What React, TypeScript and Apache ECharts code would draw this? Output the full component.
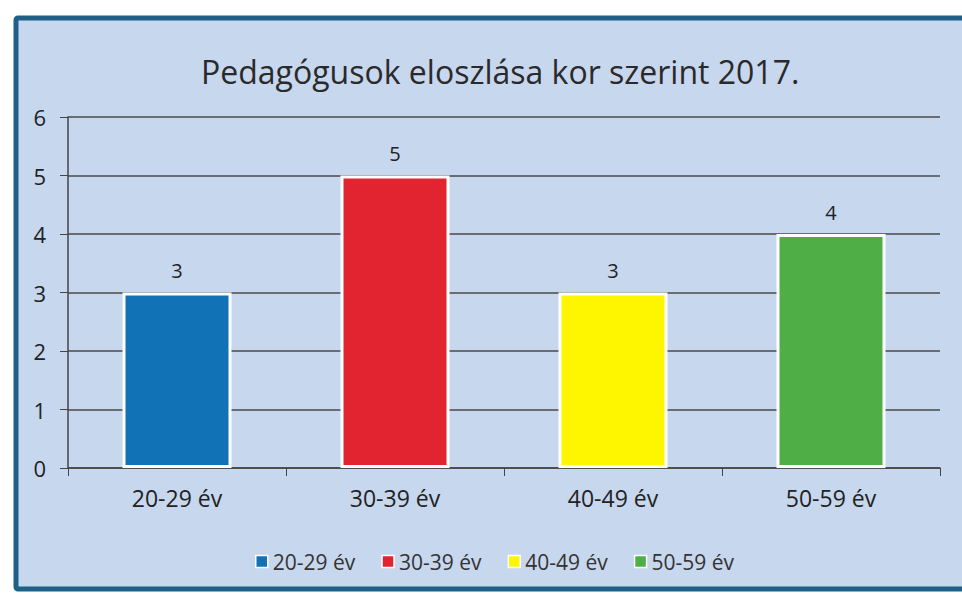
import React, { useEffect, useRef } from "react";
import * as echarts from "echarts";

const categories = ["20-29 év", "30-39 év", "40-49 év", "50-59 év"];
const values = [3, 5, 3, 4];
const colors = ["#1172b6", "#e1242f", "#fdf600", "#4fae45"];
const yTicks = [0, 1, 2, 3, 4, 5, 6];
const title = "Pedagógusok eloszlása kor szerint 2017.";

const FONT = "'Open Sans', 'Noto Sans', sans-serif";

export default function App() {
  const ref = useRef<HTMLDivElement>(null);
  useEffect(() => {
    const chart = echarts.init(ref.current!, null, { renderer: "svg" });
    const series = categories.map((name, i) => ({
      name,
      type: "bar",
      stack: "all",
      barWidth: "50%",
      data: categories.map((_, j) => (j === i ? values[i] : null)),
      itemStyle: { color: colors[i], borderColor: "#ffffff", borderWidth: 3 },
      label: {
        show: true,
        position: "top",
        distance: 12,
        color: "#222",
        fontSize: 20,
        fontFamily: FONT,
      },
    }));
    chart.setOption({
      animation: false,
      backgroundColor: "#ffffff",
      graphic: [
        {
          type: "rect",
          z: -10,
          shape: { x: 16, y: 18, width: 970, height: 571, r: 2 },
          style: { fill: "#c7d7ee", stroke: "#1e5f88", lineWidth: 5 },
        },
      ],
      title: {
        text: title,
        left: 196,
        top: 50,
        textStyle: { fontFamily: FONT, fontSize: 32, fontWeight: "normal", color: "#2a2a2a" },
      },
      legend: {
        data: categories,
        top: 546,
        left: 250,
        icon: "rect",
        itemWidth: 12,
        itemHeight: 12,
        itemGap: 26,
        itemStyle: { borderColor: "#ffffff", borderWidth: 1.5 },
        textStyle: { fontFamily: FONT, fontSize: 21, color: "#333" },
      },
      grid: { left: 68, right: 22, top: 117, bottom: 130 },
      xAxis: {
        type: "category",
        data: categories,
        axisLine: { lineStyle: { color: "#444", width: 1.5 } },
        axisTick: { show: true, length: 8, lineStyle: { color: "#444" } },
        axisLabel: { fontFamily: FONT, fontSize: 23, color: "#222", margin: 18 },
      },
      yAxis: {
        type: "value",
        min: 0,
        max: yTicks[yTicks.length - 1],
        interval: 1,
        axisLine: { show: true, lineStyle: { color: "#444", width: 1.5 } },
        axisTick: { show: true, length: 8, lineStyle: { color: "#444" } },
        axisLabel: { fontFamily: FONT, fontSize: 22, color: "#222", margin: 22 },
        splitLine: { lineStyle: { color: "#4a4a4a", width: 1.5 } },
      },
      series,
    });
    return () => chart.dispose();
  }, []);
  return (
    <div
      ref={ref}
      style={{ position: "fixed", left: 0, top: 0, width: 962, height: 598 }}
    />
  );
}
